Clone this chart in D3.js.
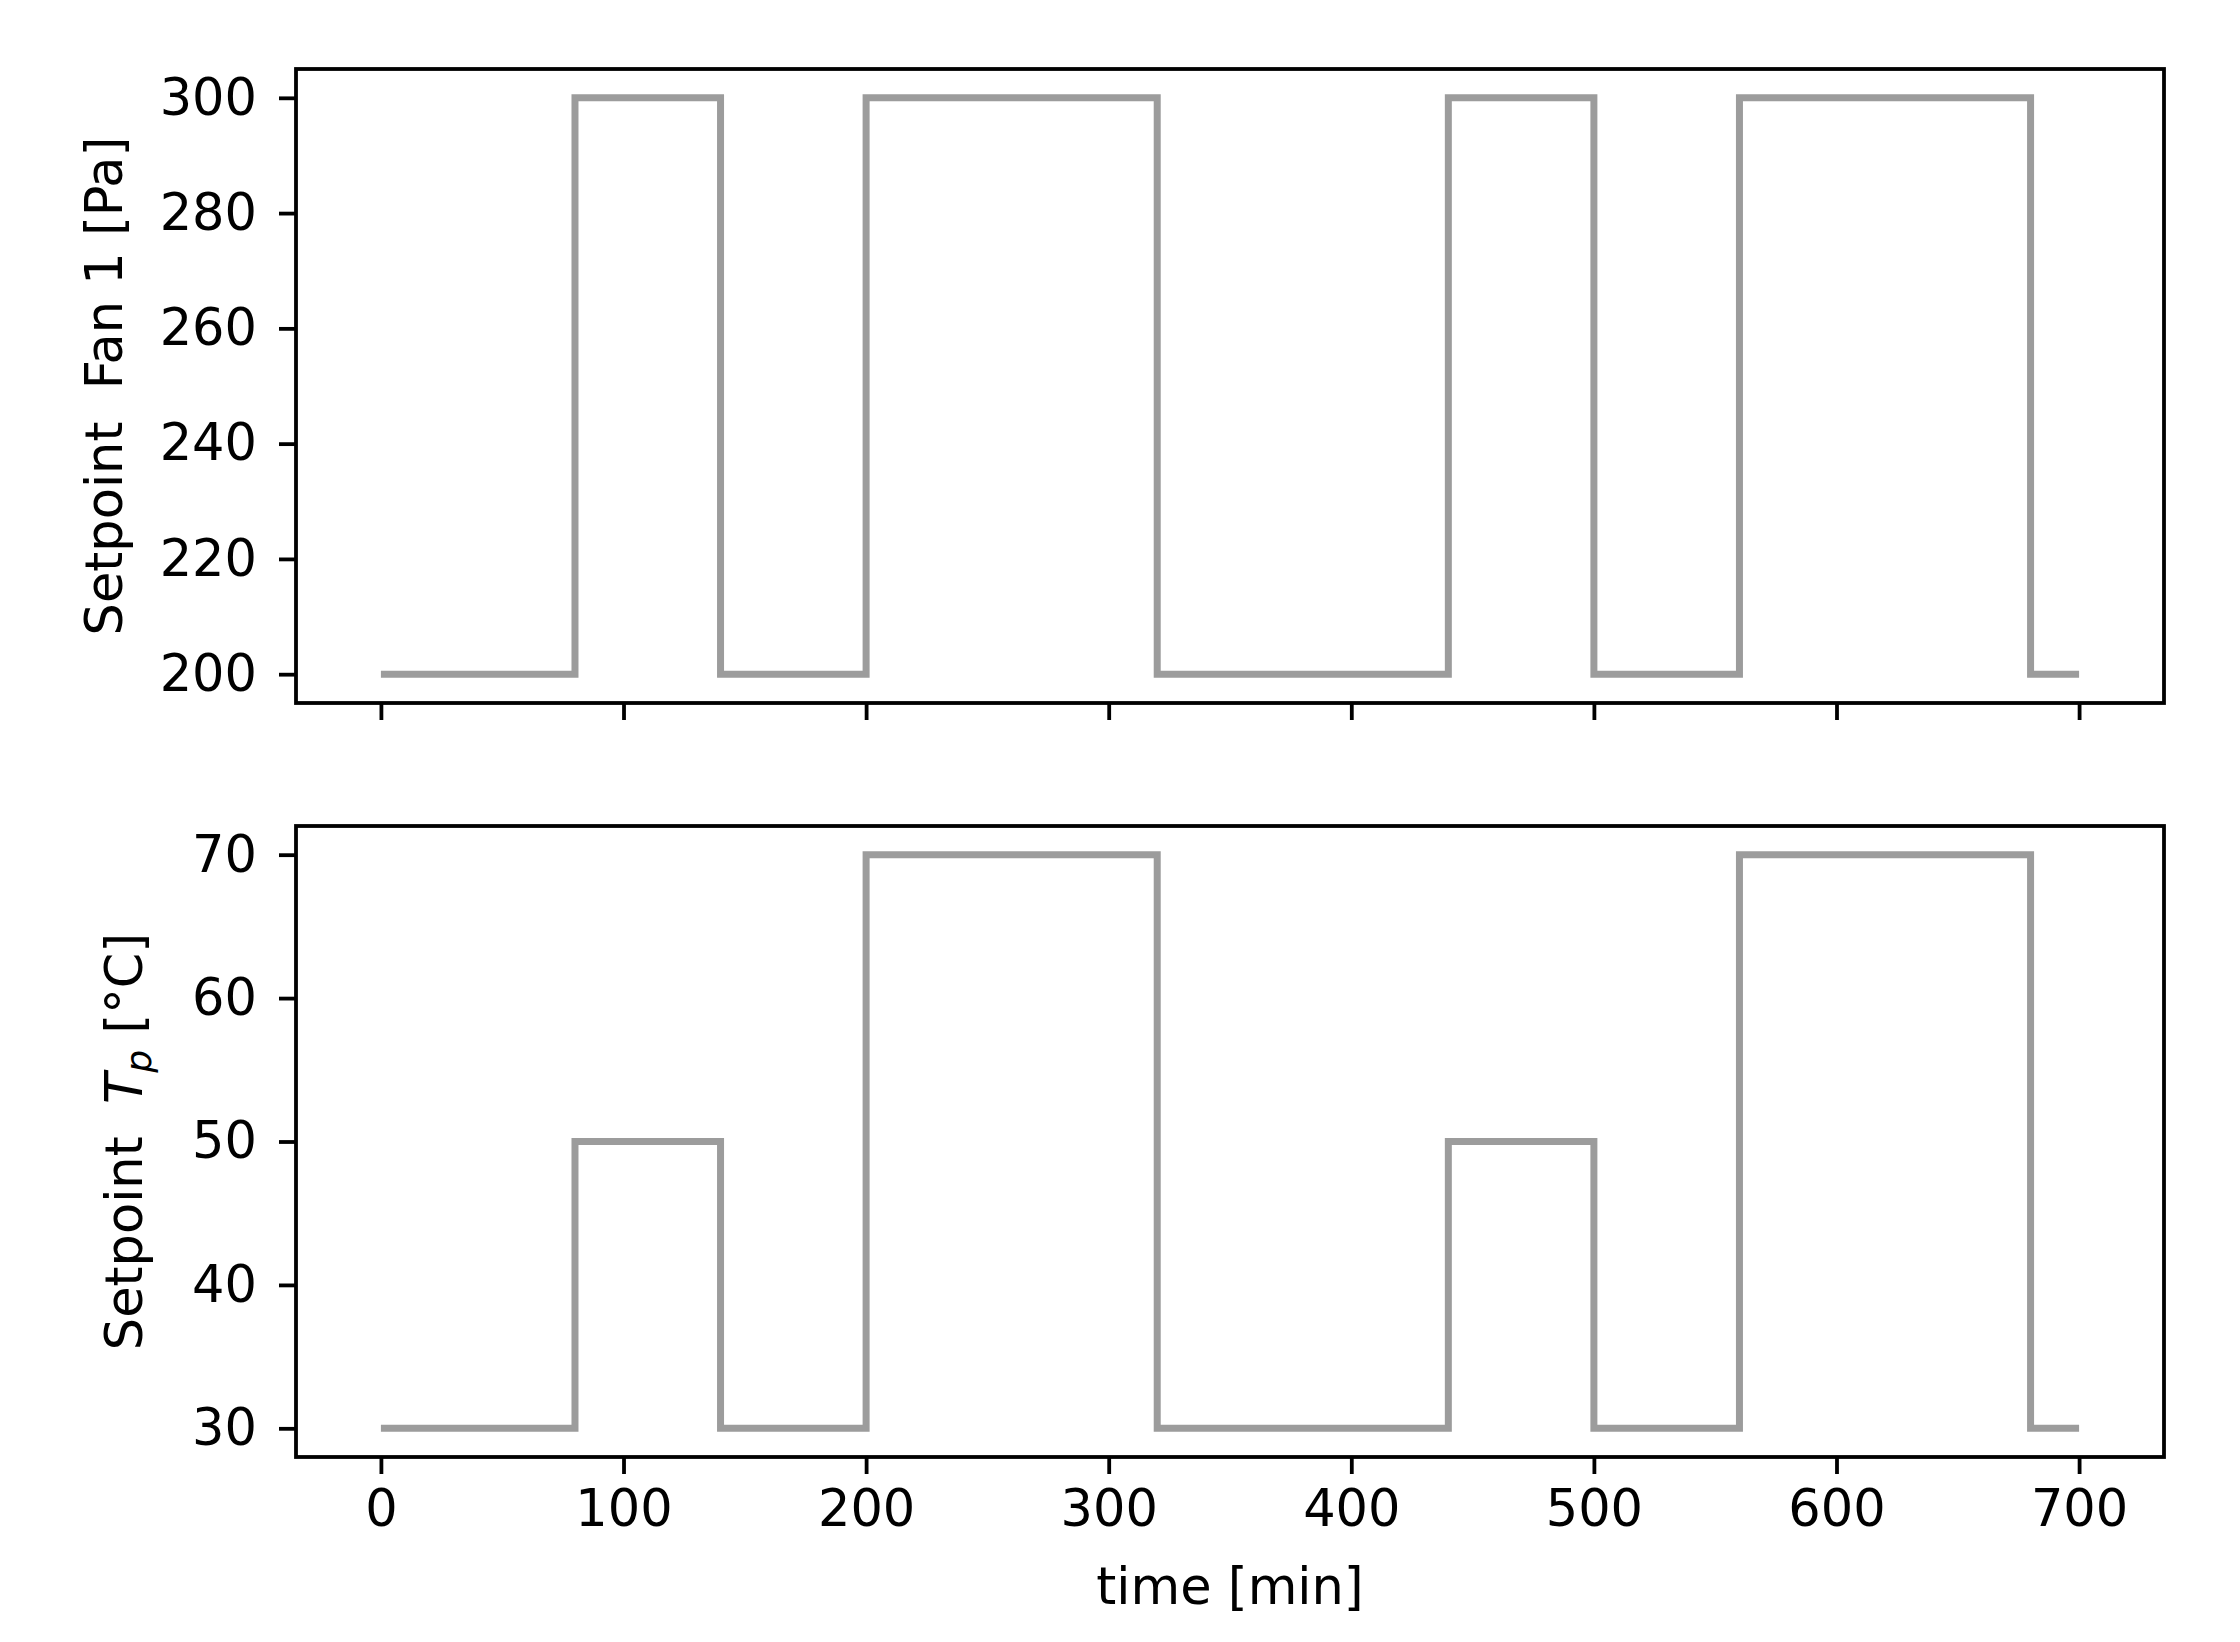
<!DOCTYPE html>
<html>
<head>
<meta charset="utf-8">
<script src="https://cdn.jsdelivr.net/npm/d3@7"></script>
<style>
  body { margin: 0; background: #fff; }
  text { font-family: "DejaVu Sans", sans-serif; fill: #000; }
</style>
</head>
<body>
<div class="chart"></div>
<script>
// step change times and setpoint levels
let times = [0, 80, 140, 200, 320, 440, 500, 560, 680, 700];
let fanSetpoint = [200, 300, 200, 300, 200, 300, 200, 300, 200, 200];
let tempSetpoint = [30, 50, 30, 70, 30, 50, 30, 70, 30, 30];

let xTicks = [0, 100, 200, 300, 400, 500, 600, 700];
let fanTicks = [200, 220, 240, 260, 280, 300];
let tempTicks = [30, 40, 50, 60, 70];

let W = 2240, H = 1642;
let left = 296, right = 2164;
let tickLen = 17, fontSize = 51;

let svg = d3.select(".chart").append("svg")
    .attr("width", W)
    .attr("height", H);

let xScale = d3.scaleLinear()
    .domain([-35, 735])
    .range([left, right]);

let panels = [
    { values: fanSetpoint, ticks: fanTicks, domain: [195, 305], top: 69, bottom: 703, showX: false },
    { values: tempSetpoint, ticks: tempTicks, domain: [28, 72], top: 826, bottom: 1457, showX: true }
];

panels.forEach((p, i) => {
    let yScale = d3.scaleLinear()
        .domain(p.domain)
        .range([p.bottom, p.top]);

    let line = d3.line()
        .x((d, j) => xScale(times[j]))
        .y(d => yScale(d))
        .curve(d3.curveStepAfter);

    let g = svg.append("g").attr("class", "panel-" + i);

    g.append("path")
        .attr("d", line(p.values))
        .attr("fill", "none")
        .attr("stroke", "#9c9c9c")
        .attr("stroke-width", 7)
        .attr("stroke-linecap", "butt");

    let yAxis = g.append("g")
        .attr("transform", `translate(${left},0)`)
        .call(d3.axisLeft(yScale).tickValues(p.ticks).tickSize(tickLen).tickPadding(22));

    let xAxis = g.append("g")
        .attr("transform", `translate(0,${p.bottom})`)
        .call(d3.axisBottom(xScale).tickValues(xTicks).tickSize(tickLen).tickPadding(16)
            .tickFormat(p.showX ? d3.format("d") : ""));

    [xAxis, yAxis].forEach(a => {
        a.select(".domain").remove();
        a.selectAll(".tick line").attr("stroke", "#000").attr("stroke-width", 3.8);
        a.selectAll(".tick text").style("font-size", fontSize + "px").attr("fill", "#000");
    });

    // axes frame
    g.append("rect")
        .attr("x", left)
        .attr("y", p.top)
        .attr("width", right - left)
        .attr("height", p.bottom - p.top)
        .attr("fill", "none")
        .attr("stroke", "#000")
        .attr("stroke-width", 3.8);
});

// y labels
let cy1 = (69 + 703) / 2;
svg.append("text")
    .attr("transform", `translate(122,${cy1}) rotate(-90)`)
    .attr("text-anchor", "middle")
    .style("font-size", fontSize + "px")
    .style("white-space", "pre")
    .text("Setpoint  Fan 1 [Pa]");

let cy2 = (826 + 1457) / 2;
let lab2 = svg.append("text")
    .attr("transform", `translate(142,${cy2}) rotate(-90)`)
    .attr("text-anchor", "middle")
    .style("font-size", fontSize + "px")
    .style("white-space", "pre");
lab2.append("tspan").text("Setpoint  ");
lab2.append("tspan").style("font-style", "italic").text("T");
lab2.append("tspan").style("font-style", "italic").style("font-size", "36px").attr("dy", 9).text("p");
lab2.append("tspan").attr("dy", -9).text(" [°C]");

// x label
svg.append("text")
    .attr("x", (left + right) / 2)
    .attr("y", 1604)
    .attr("text-anchor", "middle")
    .style("font-size", fontSize + "px")
    .text("time [min]");
</script>
</body>
</html>
